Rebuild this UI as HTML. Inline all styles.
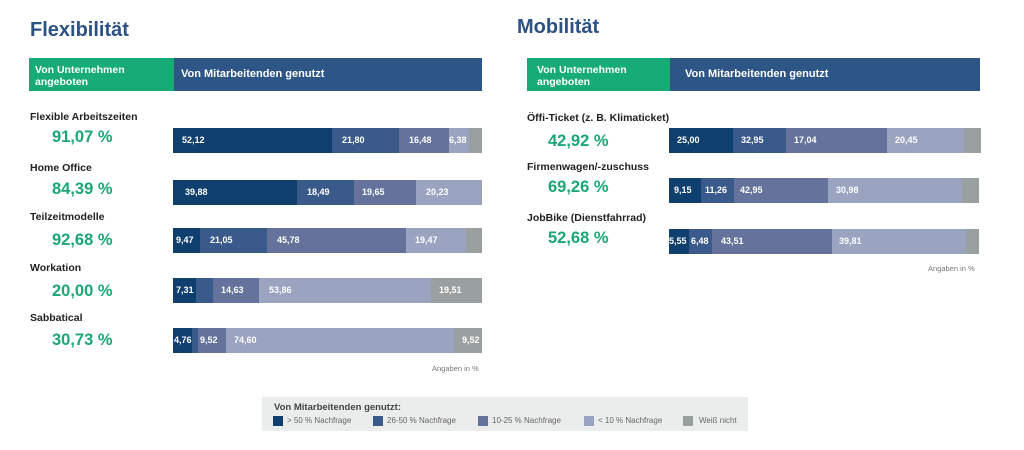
<!DOCTYPE html>
<html><head><meta charset="utf-8"><style>
*{margin:0;padding:0;box-sizing:border-box}
body{width:1024px;height:450px;background:#fff;position:relative;overflow:hidden;font-family:"Liberation Sans",sans-serif}
.a{position:absolute;white-space:nowrap}
.t{font-size:20px;font-weight:bold;color:#2c5183}
.hg{background:#17ab76;color:#fff;font-size:10.5px;font-weight:bold;line-height:12px;padding:6px 0 0 6px}
.hb{background:#2d5585;color:#fff;font-size:11px;font-weight:bold;line-height:33px;padding-left:7px}
.lb{font-size:10.5px;font-weight:bold;color:#222}
.pc{font-size:16.5px;font-weight:bold;color:#19a873}
.bar{position:absolute;height:25px;display:flex}
.bar div{height:100%;color:#fff;font-size:9px;font-weight:bold;line-height:25px;padding-left:6px;overflow:hidden;white-space:nowrap}
.c1{background:#0f3f6e}.c2{background:#3b5a8c}.c3{background:#64729c}.c4{background:#9aa4c1}.c5{background:#9aa09f}
.ag{font-size:7.5px;color:#777}
.leg{position:absolute;left:262px;top:397px;width:486px;height:34px;background:#ebecec}
.sq{position:absolute;width:10px;height:10px;top:19px}
.lt{position:absolute;top:19px;font-size:8px;color:#666;line-height:10px}
</style></head><body>
<div class="a t" style="left:30px;top:19px">Flexibilität</div>
<div class="a t" style="left:517px;top:16px">Mobilität</div>

<div class="a hg" style="left:29px;top:58px;width:145px;height:33px">Von Unternehmen<br>angeboten</div>
<div class="a hb" style="left:174px;top:58px;width:308px;height:33px">Von Mitarbeitenden genutzt</div>
<div class="a hg" style="left:527px;top:58px;width:143px;height:33px;padding-left:10px">Von Unternehmen<br>angeboten</div>
<div class="a hb" style="left:670px;top:58px;width:310px;height:33px;padding-left:15px">Von Mitarbeitenden genutzt</div>

<div class="a lb" style="left:30px;top:111px">Flexible Arbeitszeiten</div>
<div class="a pc" style="left:52px;top:128px">91,07 %</div>
<div class="bar" style="left:173px;top:128px;width:309px">
<div class="c1" style="width:159px;padding-left:9px">52,12</div><div class="c2" style="width:67px;padding-left:10px">21,80</div><div class="c3" style="width:50px;padding-left:10px">16,48</div><div class="c4" style="width:20px;padding-left:0">6,38</div><div class="c5" style="width:13px"></div></div>

<div class="a lb" style="left:30px;top:162px">Home Office</div>
<div class="a pc" style="left:52px;top:180px">84,39 %</div>
<div class="bar" style="left:173px;top:180px;width:309px">
<div class="c1" style="width:124px;padding-left:12px">39,88</div><div class="c2" style="width:57px;padding-left:10px">18,49</div><div class="c3" style="width:62px;padding-left:8px">19,65</div><div class="c4" style="width:65px;padding-left:10px">20,23</div><div class="c5" style="width:1px;padding:0"></div></div>

<div class="a lb" style="left:30px;top:211px">Teilzeitmodelle</div>
<div class="a pc" style="left:52px;top:231px">92,68 %</div>
<div class="bar" style="left:173px;top:228px;width:309px">
<div class="c1" style="width:27px;padding-left:3px">9,47</div><div class="c2" style="width:67px;padding-left:10px">21,05</div><div class="c3" style="width:139px;padding-left:10px">45,78</div><div class="c4" style="width:60px;padding-left:9px">19,47</div><div class="c5" style="width:16px"></div></div>

<div class="a lb" style="left:30px;top:262px">Workation</div>
<div class="a pc" style="left:52px;top:282px">20,00 %</div>
<div class="bar" style="left:173px;top:278px;width:309px">
<div class="c1" style="width:23px;padding-left:3px">7,31</div><div class="c2" style="width:17px"></div><div class="c3" style="width:46px;padding-left:8px">14,63</div><div class="c4" style="width:172px;padding-left:10px">53,86</div><div class="c5" style="width:51px;padding-left:8px">19,51</div></div>

<div class="a lb" style="left:30px;top:312px">Sabbatical</div>
<div class="a pc" style="left:52px;top:331px">30,73 %</div>
<div class="bar" style="left:173px;top:328px;width:309px">
<div class="c1" style="width:19px;padding-left:1px">4,76</div><div class="c2" style="width:6px;padding:0"></div><div class="c3" style="width:28px;padding-left:2px">9,52</div><div class="c4" style="width:228px;padding-left:8px">74,60</div><div class="c5" style="width:28px;padding-left:8px">9,52</div></div>
<div class="a ag" style="left:432px;top:364px">Angaben in %</div>

<div class="a lb" style="left:527px;top:112px">Öffi-Ticket (z. B. Klimaticket)</div>
<div class="a pc" style="left:548px;top:132px">42,92 %</div>
<div class="bar" style="left:669px;top:128px;width:312px">
<div class="c1" style="width:64px;padding-left:8px">25,00</div><div class="c2" style="width:53px;padding-left:8px">32,95</div><div class="c3" style="width:101px;padding-left:8px">17,04</div><div class="c4" style="width:77px;padding-left:8px">20,45</div><div class="c5" style="width:17px"></div></div>

<div class="a lb" style="left:527px;top:161px">Firmenwagen/-zuschuss</div>
<div class="a pc" style="left:548px;top:178px">69,26 %</div>
<div class="bar" style="left:669px;top:178px;width:310px">
<div class="c1" style="width:32px;padding-left:5px">9,15</div><div class="c2" style="width:33px;padding-left:4px">11,26</div><div class="c3" style="width:94px;padding-left:6px">42,95</div><div class="c4" style="width:134px;padding-left:8px">30,98</div><div class="c5" style="width:17px"></div></div>

<div class="a lb" style="left:527px;top:212px">JobBike (Dienstfahrrad)</div>
<div class="a pc" style="left:548px;top:229px">52,68 %</div>
<div class="bar" style="left:669px;top:229px;width:310px">
<div class="c1" style="width:20px;padding-left:0">5,55</div><div class="c2" style="width:23px;padding-left:2px">6,48</div><div class="c3" style="width:120px;padding-left:9px">43,51</div><div class="c4" style="width:134px;padding-left:7px">39,81</div><div class="c5" style="width:13px"></div></div>
<div class="a ag" style="left:928px;top:264px">Angaben in %</div>

<div class="leg">
<div class="a" style="left:12px;top:5px;font-size:9.5px;font-weight:bold;color:#444">Von Mitarbeitenden genutzt:</div>
<div class="sq c1" style="left:11px"></div><div class="lt" style="left:25px">&gt; 50 % Nachfrage</div>
<div class="sq c2" style="left:111px"></div><div class="lt" style="left:125px">26-50 % Nachfrage</div>
<div class="sq c3" style="left:216px"></div><div class="lt" style="left:230px">10-25 % Nachfrage</div>
<div class="sq c4" style="left:322px"></div><div class="lt" style="left:336px">&lt; 10 % Nachfrage</div>
<div class="sq c5" style="left:421px"></div><div class="lt" style="left:437px">Weiß nicht</div>
</div>
</body></html>
